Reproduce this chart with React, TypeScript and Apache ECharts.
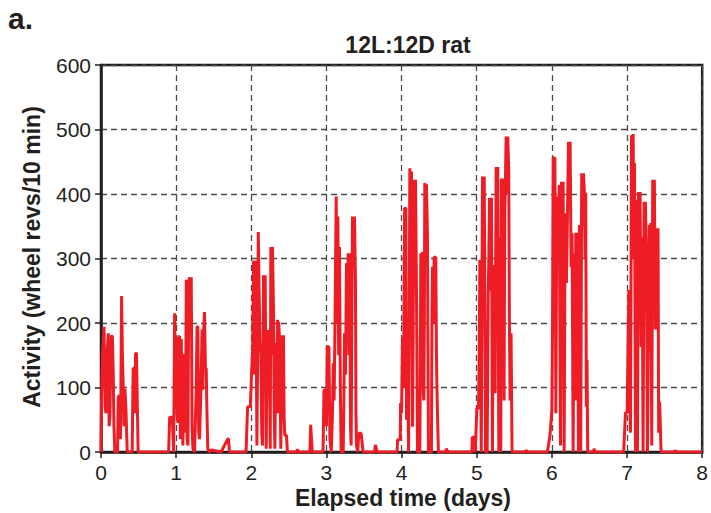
import React, { useEffect, useRef } from "react";
import * as echarts from "echarts";

// Elapsed time (days) vs activity (wheel revs / 10 min)
const day0: [number, number][] = [
  [0, 0], [0.009, 96], [0.02, 150], [0.04, 194], [0.055, 70], [0.066, 60], [0.08, 150], [0.097, 184],
  [0.108, 40], [0.119, 55], [0.13, 160], [0.141, 181], [0.152, 178], [0.163, 120], [0.172, 40], [0.185, 0],
  [0.22, 0], [0.23, 85], [0.245, 88], [0.26, 20], [0.274, 242], [0.285, 150], [0.296, 101], [0.307, 40],
  [0.318, 98], [0.331, 70], [0.349, 0], [0.415, 0], [0.428, 130], [0.44, 130], [0.45, 60], [0.46, 153],
  [0.472, 153], [0.494, 0], [0.9, 0],
];
const day1: [number, number][] = [
  [0.905, 0], [0.914, 54], [0.949, 54], [0.967, 0], [0.975, 0], [0.98, 215], [0.99, 100], [1.002, 178],
  [1.012, 60], [1.024, 45], [1.035, 178], [1.046, 180], [1.057, 20], [1.068, 175], [1.08, 60], [1.09, 10],
  [1.1, 150], [1.113, 150], [1.124, 30], [1.135, 267], [1.146, 20], [1.157, 10], [1.168, 265], [1.179, 271],
  [1.19, 200], [1.201, 271], [1.212, 40], [1.223, 5], [1.245, 0], [1.267, 96], [1.278, 194], [1.289, 194],
  [1.3, 30], [1.311, 20], [1.33, 96], [1.345, 190], [1.355, 96], [1.366, 190], [1.377, 217], [1.39, 130],
  [1.4, 130], [1.41, 60], [1.421, 5], [1.444, 0], [1.466, 3], [1.6, 0], [1.62, 5], [1.686, 20], [1.698, 20],
  [1.709, 0], [1.93, 0],
];
const day2: [number, number][] = [
  [1.951, 70], [1.975, 70], [1.987, 70], [2.004, 122], [2.018, 158], [2.031, 297], [2.042, 120], [2.053, 297],
  [2.062, 262], [2.075, 10], [2.084, 150], [2.093, 341], [2.104, 250], [2.115, 170], [2.128, 150], [2.139, 30],
  [2.15, 10], [2.163, 274], [2.174, 200], [2.185, 274], [2.199, 5], [2.207, 120], [2.216, 189], [2.227, 100],
  [2.238, 189], [2.252, 5], [2.26, 318], [2.271, 150], [2.282, 318], [2.296, 215], [2.305, 60], [2.314, 5],
  [2.327, 169], [2.338, 100], [2.349, 205], [2.358, 60], [2.366, 202], [2.38, 150], [2.393, 5], [2.406, 181],
  [2.417, 90], [2.428, 181], [2.437, 50], [2.446, 26], [2.468, 26], [2.481, 0], [2.6, 0], [2.614, 4],
  [2.625, 0], [2.78, 0], [2.79, 42], [2.812, 0], [2.955, 0],
];
const day3: [number, number][] = [
  [2.967, 96], [2.989, 96], [3.0, 40], [3.011, 163], [3.033, 163], [3.046, 20], [3.064, 0], [3.08, 60],
  [3.091, 138], [3.102, 80], [3.113, 184], [3.122, 300], [3.13, 396], [3.141, 200], [3.152, 365], [3.163, 150],
  [3.174, 318], [3.185, 100], [3.196, 0], [3.223, 0], [3.232, 80], [3.241, 184], [3.254, 120], [3.267, 293],
  [3.278, 200], [3.289, 308], [3.3, 150], [3.311, 308], [3.32, 40], [3.329, 10], [3.338, 200], [3.347, 365],
  [3.36, 300], [3.373, 365], [3.386, 267], [3.393, 60], [3.4, 10], [3.417, 0], [3.43, 29], [3.461, 29],
  [3.488, 0], [3.64, 0], [3.651, 11], [3.673, 0], [3.94, 0],
];
const day4: [number, number][] = [
  [3.947, 19], [3.982, 19], [3.987, 76], [4.0, 60], [4.013, 178], [4.025, 100], [4.04, 378], [4.057, 378],
  [4.066, 50], [4.079, 163], [4.093, 0], [4.1, 150], [4.11, 440], [4.12, 300], [4.132, 435], [4.146, 39],
  [4.155, 200], [4.163, 422], [4.174, 300], [4.185, 422], [4.199, 240], [4.212, 0], [4.243, 0], [4.25, 150],
  [4.256, 308], [4.267, 200], [4.278, 310], [4.287, 100], [4.296, 80], [4.303, 200], [4.309, 417], [4.32, 300],
  [4.331, 415], [4.344, 339], [4.358, 0], [4.397, 0], [4.404, 200], [4.411, 287], [4.422, 200], [4.433, 302],
  [4.455, 302], [4.464, 150], [4.473, 84], [4.49, 0], [4.59, 0], [4.596, 5], [4.618, 0], [4.935, 0],
];
const day5: [number, number][] = [
  [4.94, 23], [4.963, 23], [4.98, 0], [5.002, 68], [5.024, 68], [5.033, 150], [5.042, 298], [5.05, 200],
  [5.06, 0], [5.068, 200], [5.077, 427], [5.088, 300], [5.1, 427], [5.117, 0], [5.139, 0], [5.152, 236],
  [5.161, 300], [5.17, 394], [5.183, 250], [5.196, 394], [5.209, 0], [5.216, 150], [5.223, 290], [5.234, 200],
  [5.245, 91], [5.252, 300], [5.258, 442], [5.27, 350], [5.28, 442], [5.294, 0], [5.3, 200], [5.307, 333],
  [5.32, 0], [5.329, 424], [5.34, 300], [5.351, 424], [5.364, 80], [5.373, 372], [5.382, 420], [5.391, 489],
  [5.402, 400], [5.413, 489], [5.426, 437], [5.435, 200], [5.444, 80], [5.457, 184], [5.47, 0], [5.65, 0],
  [5.656, 3], [5.67, 0], [5.94, 0],
];
const day6: [number, number][] = [
  [5.943, 0], [5.974, 25], [6.0, 65], [6.009, 200], [6.018, 456], [6.04, 456], [6.053, 60], [6.066, 396],
  [6.076, 300], [6.084, 324], [6.098, 414], [6.106, 200], [6.115, 10], [6.128, 419], [6.14, 300], [6.15, 419],
  [6.163, 0], [6.177, 370], [6.186, 300], [6.194, 262], [6.208, 370], [6.221, 481], [6.232, 400], [6.243, 481],
  [6.256, 287], [6.269, 339], [6.283, 0], [6.296, 308], [6.31, 80], [6.318, 340], [6.33, 250], [6.34, 340],
  [6.354, 0], [6.367, 352], [6.384, 0], [6.397, 432], [6.41, 350], [6.42, 432], [6.433, 402], [6.442, 300],
  [6.45, 402], [6.459, 70], [6.468, 143], [6.477, 0], [6.555, 0], [6.561, 5], [6.575, 0], [6.955, 0],
];
const day7: [number, number][] = [
  [6.958, 0], [6.98, 61], [7.002, 61], [7.012, 150], [7.024, 251], [7.035, 100], [7.046, 30], [7.06, 491],
  [7.072, 480], [7.082, 493], [7.09, 300], [7.099, 448], [7.113, 0], [7.126, 391], [7.139, 0], [7.152, 403],
  [7.163, 350], [7.174, 403], [7.188, 163], [7.201, 333], [7.214, 0], [7.227, 388], [7.236, 300], [7.245, 388],
  [7.258, 308], [7.272, 0], [7.285, 189], [7.298, 352], [7.307, 250], [7.316, 355], [7.329, 10], [7.342, 422],
  [7.353, 350], [7.364, 422], [7.377, 190], [7.391, 347], [7.402, 250], [7.413, 347], [7.421, 30], [7.434, 78],
  [7.453, 0], [7.635, 0], [7.642, 3], [7.655, 0], [8, 0],
];

const chartTitle = "12L:12D rat";
const panelLabel = "a.";
const xAxisTitle = "Elapsed time (days)";
const yAxisTitle = "Activity (wheel revs/10 min)";
const xMin = 0, xMax = 8, xStep = 1;
const yMin = 0, yMax = 600, yStep = 100;

const INK = "#231f20";
const RED = "#ee1c25";
const SANS = "'Liberation Sans', Arial, Helvetica, sans-serif";

export default function App() {
  const ref = useRef<HTMLDivElement>(null);
  useEffect(() => {
    document.body.style.margin = "0";
    if (!ref.current) return;
    const chart = echarts.init(ref.current, null, { renderer: "svg" });
    const data = [...day0, ...day1, ...day2, ...day3, ...day4, ...day5, ...day6, ...day7];
    const axisCommon = {
      axisLine: { show: true, onZero: false, lineStyle: { color: INK, width: 2.5 } },
      axisTick: { show: true, inside: false, length: 6, lineStyle: { color: INK, width: 1.5 } },
      axisLabel: { color: INK, fontSize: 21, fontFamily: SANS, margin: 10 },
      splitLine: { show: true, lineStyle: { color: "#4a4a4a", type: [6, 4], width: 1.3 } },
    };
    chart.setOption({
      animation: false,
      grid: {
        left: 101, right: 6, top: 65, bottom: 61,
        show: true, borderColor: INK, borderWidth: 2.5, backgroundColor: "transparent",
      },
      title: {
        text: chartTitle, left: 403, top: 28, textAlign: "center",
        textStyle: { fontFamily: SANS, fontWeight: "bold", fontSize: 23, color: INK },
      },
      xAxis: { type: "value", min: xMin, max: xMax, interval: xStep, ...axisCommon },
      yAxis: { type: "value", min: yMin, max: yMax, interval: yStep, ...axisCommon },
      graphic: [
        {
          type: "text", left: 8, top: 3,
          style: { text: panelLabel, fontFamily: SANS, fontWeight: "bold", fontSize: 30, fill: INK },
        },
        {
          type: "text", x: 403, y: 498,
          style: {
            text: xAxisTitle, fontFamily: SANS, fontWeight: "bold", fontSize: 23, fill: INK,
            textAlign: "center", textVerticalAlign: "middle",
          },
        },
        {
          type: "text", x: 32, y: 257, rotation: Math.PI / 2,
          style: {
            text: yAxisTitle, fontFamily: SANS, fontWeight: "bold", fontSize: 23, fill: INK,
            textAlign: "center", textVerticalAlign: "middle",
          },
        },
      ],
      series: [
        {
          type: "line", data, showSymbol: false, symbol: "none", smooth: false,
          lineStyle: { color: RED, width: 3 }, itemStyle: { color: RED }, z: 5, clip: true,
        },
      ],
    });
    return () => chart.dispose();
  }, []);
  return <div ref={ref} style={{ width: 711, height: 513, position: "absolute", left: 0, top: 0 }} />;
}
